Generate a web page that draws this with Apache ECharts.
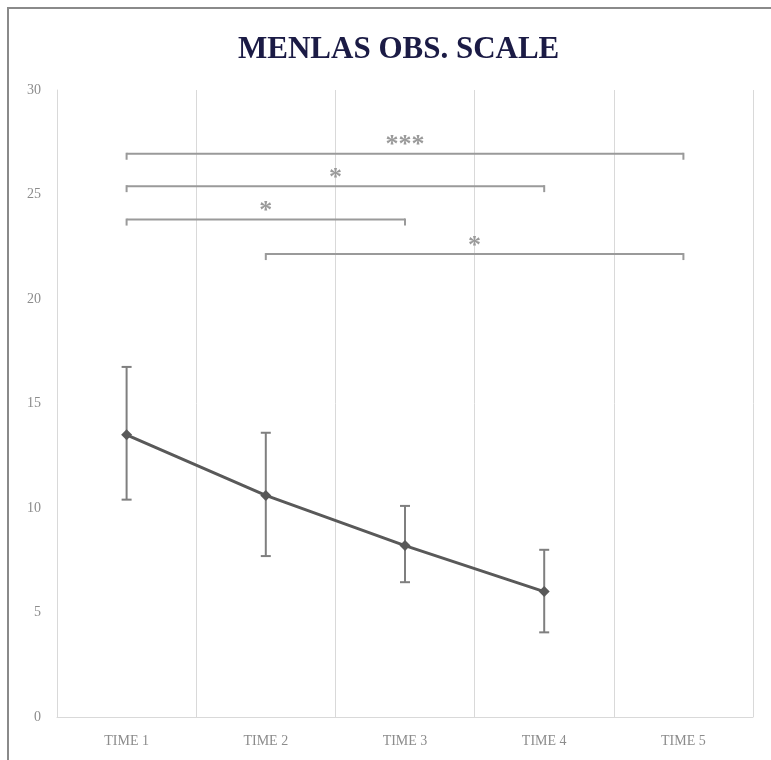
<!DOCTYPE html>
<html>
<head>
<meta charset="utf-8">
<script src="https://cdn.jsdelivr.net/npm/echarts@6/dist/echarts.min.js"></script>
<style>html,body{margin:0;padding:0;background:#fff;}#c{width:771px;height:760px;}</style>
</head>
<body>
<div id="c"></div>
<script>
var categories = ['TIME 1', 'TIME 2', 'TIME 3', 'TIME 4', 'TIME 5'];
var means = [13.5, 10.6, 8.2, 6.0, null];
var errLow = [10.4, 7.7, 6.45, 4.05, null];
var errHigh = [16.75, 13.6, 10.1, 8.0, null];
var yTicks = [0, 5, 10, 15, 20, 25, 30];
// significance brackets: [startIndex, endIndex, yLevel, label]
var bracketStart = [0, 0, 0, 1];
var bracketEnd = [4, 3, 2, 4];
var bracketLevel = [26.95, 25.4, 23.8, 22.15];
var bracketLabel = ['***', '*', '*', '*'];

var chart = echarts.init(document.getElementById('c'));
var errData = [];
for (var i = 0; i < categories.length; i++) {
  if (means[i] != null) errData.push([i, errLow[i], errHigh[i]]);
}
var brData = [];
for (var j = 0; j < bracketStart.length; j++) {
  brData.push([bracketStart[j], bracketEnd[j], bracketLevel[j], bracketLabel[j]]);
}
var gray = '#8c8c8c';
chart.setOption({
  animation: false,
  backgroundColor: '#fff',
  title: {
    text: 'MENLAS OBS. SCALE',
    left: 233,
    top: 29,
    textStyle: { fontFamily: 'Liberation Serif', fontWeight: 'bold', fontSize: 31, color: '#1b1b45' }
  },
  graphic: [{
    type: 'rect', shape: { x: 8, y: 8, width: 800, height: 800 },
    style: { fill: 'none', stroke: '#8a8a8a', lineWidth: 2 }, silent: true
  }],
  grid: { left: 57, right: 18, top: 90, bottom: 43 },
  xAxis: {
    type: 'category',
    data: categories,
    boundaryGap: true,
    axisLine: { show: true, lineStyle: { color: '#d9d9d9', width: 1 } },
    axisTick: { show: false },
    splitLine: { show: true, lineStyle: { color: '#d9d9d9', width: 1 } },
    axisLabel: { color: gray, fontFamily: 'Liberation Serif', fontSize: 14, margin: 17 }
  },
  yAxis: {
    type: 'value',
    min: yTicks[0], max: yTicks[yTicks.length - 1], interval: 5,
    axisLine: { show: true, lineStyle: { color: '#d9d9d9', width: 1 } },
    axisTick: { show: false },
    splitLine: { show: false },
    axisLabel: { color: gray, fontFamily: 'Liberation Serif', fontSize: 14, margin: 16 }
  },
  series: [
    {
      type: 'custom',
      data: errData,
      z: 2,
      renderItem: function (params, api) {
        var x = api.value(0);
        var lo = api.coord([x, api.value(1)]);
        var hi = api.coord([x, api.value(2)]);
        var w = 5;
        var st = { stroke: '#7f7f7f', lineWidth: 2 };
        return { type: 'group', children: [
          { type: 'line', shape: { x1: lo[0], y1: lo[1], x2: hi[0], y2: hi[1] }, style: st },
          { type: 'line', shape: { x1: lo[0] - w, y1: lo[1], x2: lo[0] + w, y2: lo[1] }, style: st },
          { type: 'line', shape: { x1: hi[0] - w, y1: hi[1], x2: hi[0] + w, y2: hi[1] }, style: st }
        ]};
      }
    },
    {
      type: 'line',
      data: means,
      z: 3,
      symbol: 'diamond',
      symbolSize: 11,
      lineStyle: { color: '#595959', width: 3 },
      itemStyle: { color: '#595959' }
    },
    {
      type: 'custom',
      data: brData,
      z: 2,
      renderItem: function (params, api) {
        var a = api.coord([api.value(0), api.value(2)]);
        var b = api.coord([api.value(1), api.value(2)]);
        var st = { stroke: '#9a9a9a', lineWidth: 2 };
        var d = 6;
        return { type: 'group', children: [
          { type: 'line', shape: { x1: a[0], y1: a[1], x2: b[0], y2: b[1] }, style: st },
          { type: 'line', shape: { x1: a[0], y1: a[1] - 1, x2: a[0], y2: a[1] + d }, style: st },
          { type: 'line', shape: { x1: b[0], y1: b[1] - 1, x2: b[0], y2: b[1] + d }, style: st },
          { type: 'text', x: (a[0] + b[0]) / 2, y: a[1] + 5,
            style: { text: api.value(3), fill: '#9a9a9a', fontSize: 26, fontWeight: 'bold', fontFamily: 'Liberation Serif', align: 'center', verticalAlign: 'bottom' } }
        ]};
      }
    }
  ]
});
</script>
</body>
</html>
